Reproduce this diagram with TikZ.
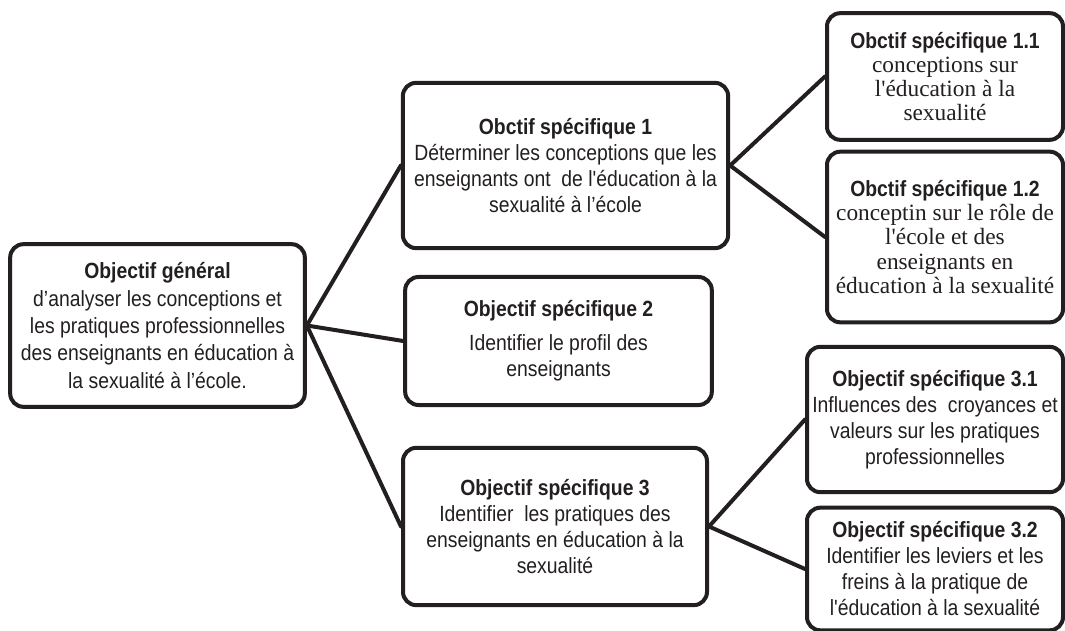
\documentclass[tikz,border=0pt]{standalone}
\usepackage{fontspec}
\setmainfont{Liberation Sans}
\newfontfamily\arialfont{Liberation Sans}[FakeStretch=0.88]
\newfontfamily\timesfont{Liberation Serif}
\usepackage{tikz}
\usetikzlibrary{calc}

\definecolor{boxline}{RGB}{35,31,32}
\newcommand{\objtitle}[1]{{\arialfont\bfseries\fontsize{16.5}{19}\selectfont #1}}

\begin{document}
\begin{tikzpicture}[x=0.75pt,y=-0.75pt,
    objbox/.style={draw=boxline,line width=3pt,rounded corners=10pt,fill=white,
        align=center,inner sep=1pt,text=boxline,font=\arialfont\fontsize{16.5}{19.5}\selectfont},
    serifbox/.style={objbox,font=\timesfont\fontsize{17.5}{18.2}\selectfont},
    link/.style={draw=boxline,line width=3pt,line cap=round}]
    \useasboundingbox (0,0) rectangle (1065,631);
    \node[objbox,minimum width=221pt,minimum height=122pt,font=\arialfont\fontsize{16.5}{20.5}\selectfont] (gen) at (157.5,325.5)
        {\objtitle{Objectif général}\\d’analyser les conceptions et\\les pratiques professionnelles\\des enseignants en éducation à\\la sexualité à l’école.};
    \node[objbox,minimum width=244pt,minimum height=124pt] (os1) at (565.5,165.5)
        {\objtitle{Obctif spécifique 1}\\Déterminer les conceptions que les\\enseignants ont \ de l'éducation à la\\sexualité à l’école};
    \node[objbox,minimum width=230pt,minimum height=96pt] (os2) at (558.5,341)
        {\objtitle{Objectif spécifique 2}\\[6pt]Identifier le profil des\\enseignants};
    \node[objbox,minimum width=228pt,minimum height=118pt] (os3) at (555,526.5)
        {\objtitle{Objectif spécifique 3}\\Identifier \ les pratiques des\\enseignants en éducation à la\\sexualité};
    \node[serifbox,minimum width=177pt,minimum height=95pt] (os11) at (945,76.5)
        {\objtitle{Obctif spécifique 1.1}\\conceptions sur\\l'éducation à la\\sexualité};
    \node[serifbox,minimum width=177pt,minimum height=128pt] (os12) at (945,237)
        {\objtitle{Obctif spécifique 1.2}\\conceptin sur le rôle de\\l'école et des\\enseignants en\\éducation à la sexualité};
    \node[objbox,minimum width=192pt,minimum height=109pt] (os31) at (935,419.5)
        {\objtitle{Objectif spécifique 3.1}\\Influences des \ croyances et\\valeurs sur les pratiques\\professionnelles};
    \node[objbox,minimum width=192pt,minimum height=92pt] (os32) at (935,569)
        {\objtitle{Objectif spécifique 3.2}\\Identifier les leviers et les\\freins à la pratique de\\l'éducation à la sexualité};
    \draw[link] (gen.east) -- (os1.west);
    \draw[link] (gen.east) -- (os2.west);
    \draw[link] (gen.east) -- (os3.west);
    \draw[link] (os1.east) -- (os11.west);
    \draw[link] (os1.east) -- (os12.west);
    \draw[link] (os3.east) -- (os31.west);
    \draw[link] (os3.east) -- (os32.west);
\end{tikzpicture}
\end{document}
